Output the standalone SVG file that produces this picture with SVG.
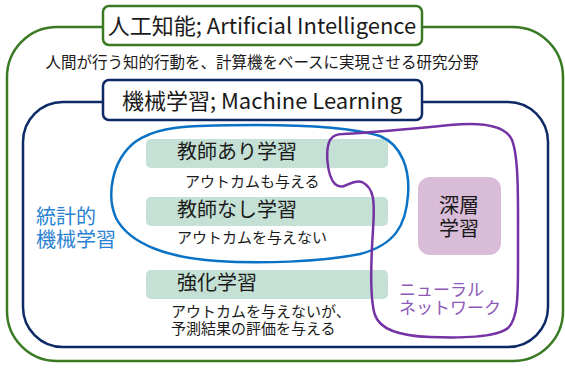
<svg xmlns="http://www.w3.org/2000/svg" width="565" height="374" viewBox="0 0 565 374">
<style>
text{font-family:"Noto Sans CJK JP","Noto Sans",sans-serif;fill:#1a1a1a}
.ttl{font-size:22px;text-anchor:middle}
.box{fill:#c5e0d4}
.bt{font-size:20px}
.sub{font-size:15px}
.frame{fill:#fff;stroke-width:2.5}
</style>
<g id="ai">
<rect x="7" y="27" width="556" height="334" rx="50" fill="#fff" stroke="#3a7a24" stroke-width="2.5"/>
<rect x="103" y="6" width="319" height="39" rx="6" class="frame" stroke="#3a7a24"/>
<text x="262" y="34" class="ttl">人工知能; Artificial Intelligence</text>
<text x="262" y="68" style="font-size:15.5px;text-anchor:middle">人間が行う知的行動を、計算機をベースに実現させる研究分野</text>
</g>
<g id="ml">
<rect x="23" y="102" width="525" height="245" rx="40" fill="#fff" stroke="#0d2a66" stroke-width="2.5"/>
<rect x="103" y="80" width="319" height="40" rx="6" class="frame" stroke="#0d2a66"/>
<text x="262" y="109" class="ttl">機械学習; Machine Learning</text>
</g>
<g id="supervised">
<rect x="146" y="139" width="242" height="29" rx="5" class="box"/>
<text x="177" y="159" class="bt">教師あり学習</text>
<text x="185" y="187" class="sub">アウトカムも与える</text>
</g>
<g id="unsupervised">
<rect x="146" y="197" width="242" height="29" rx="5" class="box"/>
<text x="177" y="217" class="bt">教師なし学習</text>
<text x="177" y="243" class="sub">アウトカムを与えない</text>
</g>
<g id="reinforcement">
<rect x="146" y="270" width="242" height="29" rx="5" class="box"/>
<text x="177" y="290" class="bt">強化学習</text>
<text x="171" y="317" class="sub">アウトカムを与えないが、</text>
<text x="171" y="334" class="sub">予測結果の評価を与える</text>
</g>
<g id="deep">
<rect x="418" y="177" width="83" height="78" rx="12" fill="#d9bcd8"/>
<text x="459" y="213" style="font-size:20px;text-anchor:middle">深層</text>
<text x="459" y="236" style="font-size:20px;text-anchor:middle">学習</text>
</g>
<g id="connectors" fill="none" stroke-width="2.5">
<path id="statml" stroke="#0a72c4" d="M 200 126 C 260 124, 340 124, 380 136 C 402 145, 410 170, 408 195 C 406 225, 395 245, 360 254 C 320 262, 260 264, 217 261 C 170 258, 130 245, 116 218 C 106 195, 112 160, 135 142 C 155 128, 180 127, 200 126 Z"/>
<path id="nn" stroke="#7432a4" d="M 343 134 C 380 132, 420 128, 450 125 C 480 122, 505 124, 512 140 C 519 158, 518 200, 518 250 C 518 290, 519 318, 508 328 C 495 338, 460 338, 430 337 C 400 336, 380 330, 375 315 C 370 300, 371 260, 373 230 C 375 200, 374 188, 362 182 C 350 178, 345 192, 335 184 C 327 176, 325 150, 330 140 C 333 135, 338 134, 343 134 Z"/>
</g>
<g id="labels">
<text x="36" y="224" style="font-size:20px;fill:#2a82d2">統計的</text>
<text x="36" y="247" style="font-size:20px;fill:#2a82d2">機械学習</text>
<text x="399" y="296" style="font-size:17px;fill:#8e58b8">ニューラル</text>
<text x="399" y="314" style="font-size:17px;fill:#8e58b8">ネットワーク</text>
</g>
</svg>
